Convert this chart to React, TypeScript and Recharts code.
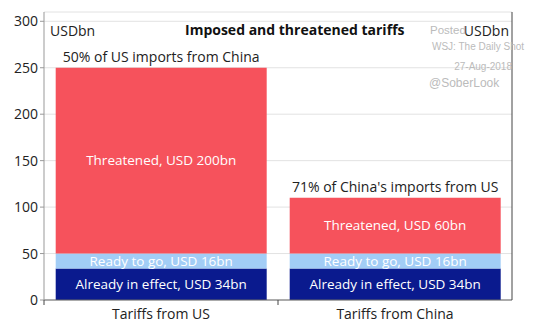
import React from 'react';
import { BarChart, Bar, XAxis, YAxis, CartesianGrid, LabelList } from 'recharts';

const categories = ['Tariffs from US', 'Tariffs from China'];
const inEffect = [34, 34];
const readyToGo = [16, 16];
const threatened = [200, 60];
const inEffectLabels = ['Already in effect, USD 34bn', 'Already in effect, USD 34bn'];
const readyLabels = ['Ready to go, USD 16bn', 'Ready to go, USD 16bn'];
const threatenedLabels = ['Threatened, USD 200bn', 'Threatened, USD 60bn'];
const shareLabels = ['50% of US imports from China', "71% of China's imports from US"];
const yTicks = [0, 50, 100, 150, 200, 250, 300];

const W = 555;
const H = 328;
const LEFT_W = 44;
const RIGHT_W = 43;
const BAND = (W - LEFT_W - RIGHT_W) / categories.length;
const FONT = '"Open Sans", "Noto Sans", sans-serif';
const MARK_FONT = '"Liberation Sans", Arial, sans-serif';

const data = categories.map((name, i) => ({
  name,
  inEffect: inEffect[i],
  readyToGo: readyToGo[i],
  threatened: threatened[i],
  inEffectLabel: inEffectLabels[i],
  readyLabel: readyLabels[i],
  threatenedLabel: threatenedLabels[i],
  shareLabel: shareLabels[i],
}));

// category label plus a small tick at the left edge of each band
const CategoryTick = (props: any) => {
  const { x, y, payload } = props;
  return (
    <g>
      <line x1={x - BAND / 2} x2={x - BAND / 2} y1={y} y2={y + 5} stroke="#444" />
      <text x={x} y={y + 19} textAnchor="middle" fill="#222" fontSize={14} fontFamily={FONT}>
        {payload.value}
      </text>
    </g>
  );
};

const tickStyle = { fill: '#222', fontSize: 14, fontFamily: FONT };
const segLabel = { fill: '#fff', fontSize: 13.5, fontFamily: FONT };

export default function App() {
  return (
    <div style={{ position: 'absolute', left: 0, top: 0, width: W, height: H, background: '#fff', fontFamily: FONT }}>
      <BarChart width={W} height={H} data={data} margin={{ top: 12, right: 0, bottom: 0, left: 0 }} barCategoryGap="5%">
        <CartesianGrid vertical={false} stroke="#e2e2e2" yAxisId="left" />
        <XAxis
          dataKey="name"
          interval={0}
          height={28}
          tickSize={0}
          tickMargin={0}
          axisLine={{ stroke: '#666' }}
          tick={<CategoryTick />}
        />
        <YAxis
          yAxisId="left"
          domain={[0, 310]}
          ticks={yTicks}
          width={LEFT_W}
          tickSize={4}
          axisLine={{ stroke: '#999' }}
          tickLine={{ stroke: '#999' }}
          tick={tickStyle}
        />
        <YAxis
          yAxisId="right"
          orientation="right"
          domain={[0, 310]}
          ticks={yTicks}
          width={RIGHT_W}
          tickSize={5}
          axisLine={{ stroke: '#444' }}
          tickLine={{ stroke: '#444' }}
          tick={tickStyle}
        />
        <Bar yAxisId="left" dataKey="inEffect" stackId="s" fill="#0a1a8e" isAnimationActive={false}>
          <LabelList dataKey="inEffectLabel" position="center" {...segLabel} />
        </Bar>
        <Bar yAxisId="left" dataKey="readyToGo" stackId="s" fill="#a2cdf6" isAnimationActive={false}>
          <LabelList dataKey="readyLabel" position="center" {...segLabel} />
        </Bar>
        <Bar yAxisId="left" dataKey="threatened" stackId="s" fill="#f6525c" isAnimationActive={false}>
          <LabelList dataKey="threatenedLabel" position="center" {...segLabel} />
          <LabelList dataKey="shareLabel" position="top" offset={6} fill="#222" fontSize={14} fontFamily={FONT} />
        </Bar>
      </BarChart>
      <div style={{ position: 'absolute', left: 50, top: 21, fontSize: 14, color: '#222' }}>USDbn</div>
      <div style={{ position: 'absolute', left: 185, top: 20, fontSize: 14, fontWeight: 700, color: '#111' }}>
        Imposed and threatened tariffs
      </div>
      <div style={{ position: 'absolute', right: W - 509, top: 21, fontSize: 14, color: '#222' }}>USDbn</div>
      <div style={{ position: 'absolute', left: 430, top: 24, fontSize: 11.5, color: '#bbb', fontFamily: MARK_FONT }}>
        Posted
      </div>
      <div style={{ position: 'absolute', left: 432, top: 41, fontSize: 10, color: '#bbb', fontFamily: MARK_FONT }}>
        WSJ: The Daily Shot
      </div>
      <div style={{ position: 'absolute', right: W - 512, top: 61, fontSize: 10, color: '#bbb', fontFamily: MARK_FONT }}>
        27-Aug-2018
      </div>
      <div style={{ position: 'absolute', left: 429, top: 76, fontSize: 12, color: '#bbb', fontFamily: MARK_FONT }}>
        @SoberLook
      </div>
    </div>
  );
}
